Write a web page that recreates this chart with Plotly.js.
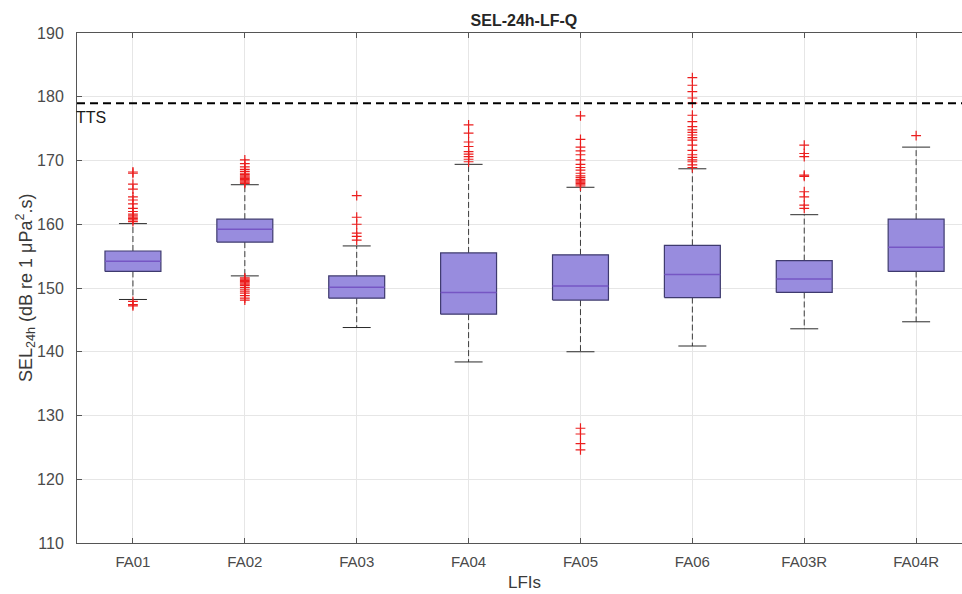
<!DOCTYPE html>
<html>
<head>
<meta charset="utf-8">
<script src="https://cdn.plot.ly/plotly-3.0.1.min.js"></script>
<style>
  html, body { margin: 0; padding: 0; background: #ffffff; }
  #chart { width: 962px; height: 594px; }
</style>
</head>
<body>
<div id="chart"></div>
<script>
// Sites (LFIs) along the x axis
const sites = ['FA01', 'FA02', 'FA03', 'FA04', 'FA05', 'FA06', 'FA03R', 'FA04R'];

// Box statistics per site, SEL 24h in dB re 1 µPa².s
const q1      = [152.6, 157.2, 148.4, 145.9, 148.1, 148.5, 149.3, 152.6];
const medians = [154.2, 159.2, 150.1, 149.3, 150.3, 152.1, 151.4, 156.4];
const q3      = [155.8, 160.8, 151.9, 155.5, 155.2, 156.7, 154.3, 160.8];
const lowerWhisker = [148.2, 151.9, 143.8, 138.4, 140.0, 140.9, 143.6, 144.7];
const upperWhisker = [160.1, 166.2, 156.6, 169.4, 165.8, 168.7, 161.5, 172.1];

// Outliers per site
const outliersFA01 = [147.2, 147.4, 147.9, 160.4, 160.7, 160.9, 161.1, 161.3, 161.6, 162.0, 162.5, 163.2, 163.8, 164.3, 165.5, 166.3, 168.0, 168.2];
const outliersFA02 = [148.1, 148.4, 148.8, 149.2, 149.5, 149.8, 150.1, 150.4, 150.6, 150.8, 151.0, 151.2, 151.4, 151.6,
                      166.4, 166.6, 166.8, 167.0, 167.2, 167.4, 167.6, 167.8, 168.0, 168.3, 168.6, 169.0, 169.5, 170.1];
const outliersFA03 = [157.5, 158.1, 158.6, 160.0, 161.1, 164.5];
const outliersFA04 = [169.8, 170.2, 170.6, 171.0, 171.4, 172.2, 172.9, 174.3, 175.6];
const outliersFA05 = [124.6, 125.6, 127.1, 128.0,
                      166.0, 166.2, 166.4, 166.6, 166.8, 167.0, 167.3, 167.6, 168.0, 168.5, 168.9, 169.4, 170.1, 170.9, 171.5, 172.1, 173.3, 177.0];
const outliersFA06 = [168.9, 169.3, 169.8, 170.1, 170.5, 170.9, 171.6, 172.4, 173.2, 173.6, 174.0, 174.4, 174.8, 175.3, 176.1, 177.1, 179.0, 179.8, 180.8, 181.8, 183.0];
const outliersFA03R = [162.5, 163.0, 164.3, 165.1, 167.5, 167.7, 170.6, 171.1, 172.4];
const outliersFA04R = [173.9];

// Temporary threshold shift criterion
const ttsLevel = 179;

const outlierSets = [outliersFA01, outliersFA02, outliersFA03, outliersFA04,
                     outliersFA05, outliersFA06, outliersFA03R, outliersFA04R];

const halfBox = 0.25;   // box half-width, category units
const halfCap = 0.125;  // whisker cap half-width

// Build polyline coordinates (segments separated by nulls)
const boxX = [], boxY = [];
const medX = [], medY = [];
const whiskX = [], whiskY = [];
const capX = [], capY = [];
const outX = [], outY = [];

sites.forEach((s, i) => {
  boxX.push(i - halfBox, i + halfBox, i + halfBox, i - halfBox, i - halfBox, null);
  boxY.push(q1[i], q1[i], q3[i], q3[i], q1[i], null);

  medX.push(i - halfBox, i + halfBox, null);
  medY.push(medians[i], medians[i], null);

  whiskX.push(i, i, null, i, i, null);
  whiskY.push(q3[i], upperWhisker[i], null, q1[i], lowerWhisker[i], null);

  capX.push(i - halfCap, i + halfCap, null, i - halfCap, i + halfCap, null);
  capY.push(upperWhisker[i], upperWhisker[i], null, lowerWhisker[i], lowerWhisker[i], null);

  outlierSets[i].forEach(v => { outX.push(i); outY.push(v); });
});

const traces = [
  {
    type: 'scatter', mode: 'lines', x: whiskX, y: whiskY,
    line: { color: '#3c3c3c', width: 1, dash: '6px,3px' },
    hoverinfo: 'skip', showlegend: false
  },
  {
    type: 'scatter', mode: 'lines', x: capX, y: capY,
    line: { color: '#2a2a2a', width: 1 },
    hoverinfo: 'skip', showlegend: false
  },
  {
    type: 'scatter', mode: 'lines', x: boxX, y: boxY, fill: 'toself',
    fillcolor: 'rgb(152,140,222)',
    line: { color: 'rgb(62,58,110)', width: 1.2 },
    hoverinfo: 'skip', showlegend: false
  },
  {
    type: 'scatter', mode: 'lines', x: medX, y: medY,
    line: { color: 'rgb(118,86,196)', width: 1.5 },
    hoverinfo: 'skip', showlegend: false
  },
  {
    type: 'scatter', mode: 'markers', x: outX, y: outY,
    marker: { symbol: 'cross-thin-open', size: 7, color: 'rgb(235,30,30)', line: { color: 'rgb(235,30,30)', width: 1.2 } },
    hoverinfo: 'y', showlegend: false
  }
];

const fam = 'Liberation Sans, Arial, sans-serif';

const layout = {
  width: 962, height: 594,
  margin: { l: 77, r: 0, t: 33, b: 51 },
  paper_bgcolor: '#ffffff', plot_bgcolor: '#ffffff',
  showlegend: false,
  title: {
    text: '<b>SEL-24h-LF-Q</b>',
    font: { family: fam, size: 16, color: '#262626' },
    xref: 'paper', x: 0.505, xanchor: 'center',
    yref: 'container', y: 0.966, yanchor: 'middle'
  },
  xaxis: {
    range: [-0.5, 7.41],
    tickmode: 'array',
    tickvals: sites.map((s, i) => i),
    ticktext: sites,
    ticks: 'inside', ticklen: 5, tickcolor: '#555555', tickwidth: 1,
    showline: true, linecolor: '#555555', linewidth: 1, mirror: 'ticks',
    showgrid: true, gridcolor: '#e6e6e6', gridwidth: 1,
    zeroline: false,
    tickfont: { family: fam, size: 15, color: '#4a4a4a' },
    ticklabelstandoff: 5
  },
  yaxis: {
    range: [110, 190],
    tickmode: 'linear', tick0: 110, dtick: 10,
    ticks: 'inside', ticklen: 5, tickcolor: '#555555', tickwidth: 1,
    showline: true, linecolor: '#555555', linewidth: 1, mirror: false,
    showgrid: true, gridcolor: '#e6e6e6', gridwidth: 1,
    zeroline: false,
    tickfont: { family: fam, size: 16, color: '#4a4a4a' },
    ticklabelstandoff: 9
  },
  shapes: [
    {
      type: 'line', xref: 'paper', x0: 0, x1: 1, yref: 'y', y0: ttsLevel, y1: ttsLevel,
      line: { color: '#000000', width: 2, dash: '8px,5px' }
    }
  ],
  annotations: [
    {
      text: 'TTS', xref: 'paper', x: 0, xanchor: 'left', yref: 'y', y: ttsLevel, yanchor: 'top',
      xshift: -3, yshift: -4, showarrow: false,
      font: { family: fam, size: 16, color: '#1a1a1a' }
    },
    {
      text: 'LFIs', xref: 'x', x: 3.5, xanchor: 'center', yref: 'paper', y: 0, yanchor: 'top',
      yshift: -28, showarrow: false,
      font: { family: fam, size: 17, color: '#3a3a3a' }
    },
    {
      // y-axis label, placed just left of the tick labels
      text: 'SEL<sub>24h</sub> (dB re 1 \u03bcPa<sup>2</sup>.s)', textangle: -90,
      xref: 'paper', x: 0, xanchor: 'center', xshift: -52,
      yref: 'paper', y: 0.5, yanchor: 'middle',
      showarrow: false,
      font: { family: fam, size: 18, color: '#3a3a3a' }
    }
  ]
};

Plotly.newPlot('chart', traces, layout, { displayModeBar: false, staticPlot: true });
</script>
</body>
</html>
